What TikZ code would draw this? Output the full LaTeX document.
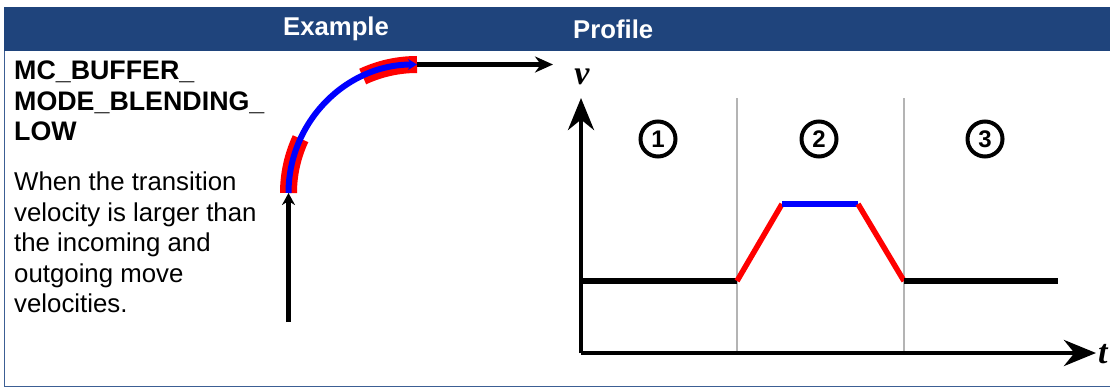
\documentclass[tikz,border=0pt]{standalone}
\usepackage{fontspec}
\setmainfont{Liberation Sans}
\newfontfamily\axisfont{Liberation Serif}
\usetikzlibrary{arrows.meta, positioning}
\definecolor{hdrblue}{HTML}{1F447C}
\definecolor{frameblue}{HTML}{3C5E94}
\definecolor{divgray}{HTML}{B4B4B4}
\definecolor{segred}{HTML}{FF0000}
\definecolor{segblue}{HTML}{0000FF}

\begin{document}
\begin{tikzpicture}[
      x=1pt, y=-1pt,
      hdrlab/.style={anchor=west, inner sep=0pt, text=white, font=\fontsize{25.7}{29}\selectfont\bfseries},
      titletext/.style={anchor=north west, inner sep=0pt, align=left, font=\fontsize{26.8}{30.5}\selectfont\bfseries},
      bodytext/.style={anchor=north west, inner sep=0pt, align=left, font=\fontsize{25.8}{30.5}\selectfont},
      blkarrow/.style={draw=black, line width=5pt, -{Stealth[length=12pt, width=13pt]}},
      axisline/.style={draw=black, line width=4.5pt, -{Stealth[length=32pt, width=26pt]}},
      axlab/.style={inner sep=0pt, font=\fontsize{34}{34}\selectfont\axisfont\bfseries\itshape},
      divider/.style={draw=divgray, line width=2pt},
      circnum/.style={draw=black, circle, line width=4pt, minimum size=35pt, inner sep=0pt, font=\fontsize{24}{24}\selectfont\bfseries},
      flat/.style={draw=black, line width=5.5pt},
      ramp/.style={draw=segred, line width=5.5pt},
      blend/.style={draw=segblue, line width=5.5pt}
  ]
    \useasboundingbox (0,0) rectangle (1110,388);

    % header and frame
    \fill[hdrblue] (4,7) rectangle (1110,51);
    \draw[frameblue, line width=1.5pt] (4.5,51) -- (4.5,386.5) -- (1110,386.5);
    \node[hdrlab] (hex) at (283,29) {Example};
    \node[hdrlab] (hpr) at (573,29) {Profile};

    \node[titletext] (title) at (14,61) {MC\_BUFFER\_\\MODE\_BLENDING\_\\LOW};
    \node[bodytext] (desc) at (14,172) {When the transition\\velocity is larger than\\the incoming and\\outgoing move\\velocities.};

    % example path
    \coordinate (inc0) at (288.5,322);
    \coordinate (inc1) at (288.5,193);
    \coordinate (out0) at (417,64.5);
    \coordinate (out1) at (553,64.5);
    \draw[segred, line width=17pt] (inc1) arc[start angle=180, end angle=205, radius=128.5];
    \draw[segred, line width=17pt] (out0) arc[start angle=270, end angle=245, radius=128.5];
    \draw[segblue, line width=6pt, -{Stealth[length=9pt, width=11pt]}] (inc1) arc[start angle=180, end angle=270, radius=128.5];
    \draw[blkarrow] (inc0) -- (inc1);
    \draw[blkarrow, -{Stealth[length=18pt, width=16pt]}] (out0) -- (out1);

    % profile
    \coordinate (o) at (581,353);
    \coordinate (vtip) at (581,98);
    \coordinate (ttip) at (1096,353);
    \draw[divider] (737,98) -- (737,353);
    \draw[divider] (904,98) -- (904,353);
    \draw[axisline] (o) -- (vtip);
    \draw[axisline] (o) -- (ttip);
    \node[axlab] (vlab) at (582,77) {v};
    \node[axlab, anchor=west] (tlab) at (1098,354) {t};

    \node[circnum] (n1) at (658,139) {1};
    \node[circnum] (n2) at (819,139) {2};
    \node[circnum] (n3) at (985,139) {3};

    \coordinate (p0) at (581,281);
    \coordinate (p1) at (737,281);
    \coordinate (p2) at (782,204);
    \coordinate (p3) at (858,204);
    \coordinate (p4) at (904,281);
    \coordinate (p5) at (1058,281);
    \draw[flat] (p0) -- (p1);
    \draw[ramp] (p1) -- (p2);
    \draw[blend] (p2) -- (p3);
    \draw[ramp] (p3) -- (p4);
    \draw[flat] (p4) -- (p5);
  \end{tikzpicture}
\end{document}
